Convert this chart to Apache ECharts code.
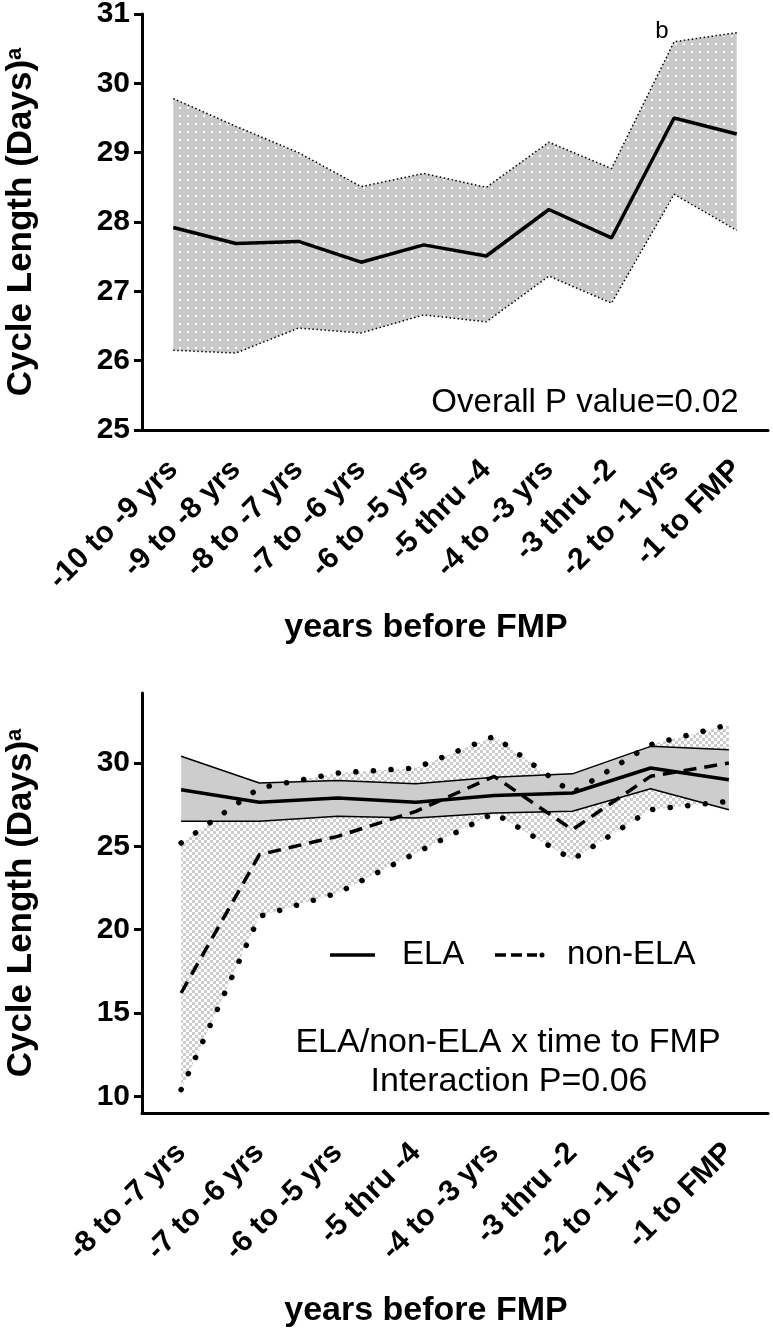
<!DOCTYPE html>
<html><head><meta charset="utf-8">
<script src="https://cdn.jsdelivr.net/npm/echarts@6/dist/echarts.min.js"></script>
<style>html,body{margin:0;padding:0;background:#fff}#c{width:773px;height:1330px}</style>
</head><body><div id="c"></div>
<script>
// ---------- data ----------
const topCategories = ['-10 to -9 yrs','-9 to -8 yrs','-8 to -7 yrs','-7 to -6 yrs','-6 to -5 yrs','-5 thru -4','-4 to -3 yrs','-3 thru -2','-2 to -1 yrs','-1 to FMP'];
const topMean  = [27.92, 27.69, 27.72, 27.42, 27.67, 27.51, 28.18, 27.77, 29.50, 29.27];
const topUpper = [29.78, 29.38, 29.00, 28.51, 28.70, 28.50, 29.15, 28.77, 30.60, 30.73];
const topLower = [26.15, 26.11, 26.47, 26.40, 26.66, 26.56, 27.22, 26.83, 28.40, 27.88];
const topYTicks = [25, 26, 27, 28, 29, 30, 31];

const botCategories = ['-8 to -7 yrs','-7 to -6 yrs','-6 to -5 yrs','-5 thru -4','-4 to -3 yrs','-3 thru -2','-2 to -1 yrs','-1 to FMP'];
const elaMean  = [28.40, 27.65, 27.90, 27.65, 28.05, 28.20, 29.70, 29.00];
const elaUpper = [30.40, 28.80, 28.95, 28.75, 29.15, 29.35, 31.00, 30.80];
const elaLower = [26.50, 26.50, 26.80, 26.70, 27.00, 27.10, 28.45, 27.20];
const nonMean  = [16.20, 24.50, 25.60, 27.10, 29.20, 26.00, 29.20, 30.00];
const nonUpper = [25.20, 28.50, 29.40, 29.70, 31.60, 28.20, 31.10, 32.30];
const nonLower = [10.40, 20.80, 22.20, 24.60, 27.00, 24.20, 27.20, 27.70];
const botYTicks = [10, 15, 20, 25, 30];

// ---------- helpers ----------
const FONT = "'Liberation Sans', Arial, Helvetica, sans-serif";
const diff = (u, l) => u.map((v, i) => +(v - l[i]).toFixed(3));
function dotPattern() {
  const c = document.createElement('canvas'); c.width = 8; c.height = 8;
  const g = c.getContext('2d');
  g.fillStyle = '#c9c9c9'; g.fillRect(0, 0, 8, 8);
  g.fillStyle = '#ffffff'; g.fillRect(3, 3, 2, 2);
  return c;
}
function checkerPattern() {
  const c = document.createElement('canvas'); c.width = 6; c.height = 6;
  const g = c.getContext('2d');
  g.fillStyle = '#ffffff'; g.fillRect(0, 0, 6, 6);
  g.fillStyle = '#cdcdcd'; g.fillRect(0, 0, 3, 3); g.fillRect(3, 3, 3, 3);
  return c;
}
const dots = dotPattern();
const checker = checkerPattern();

const yTitle = {
  rich: {
    m: { fontSize: 35, fontWeight: 'bold', fontFamily: FONT, color: '#000', lineHeight: 34 },
    s: { fontSize: 22, fontWeight: 'bold', fontFamily: FONT, color: '#000', verticalAlign: 'top', lineHeight: 34 }
  }
};
function xAxisCfg(grid, cats) {
  return {
    type: 'category', gridIndex: grid, data: cats, boundaryGap: true,
    axisLine: { onZero: false, lineStyle: { color: '#000', width: 3 } },
    axisTick: { show: false },
    axisLabel: { interval: 0, rotate: 45, fontSize: 30, fontWeight: 'bold', fontFamily: FONT, color: '#000', margin: 35, padding: [27, 0, 0, 0] },
    name: 'years before FMP', nameLocation: 'middle', nameGap: 181,
    nameTextStyle: { fontSize: 34, fontWeight: 'bold', fontFamily: FONT, color: '#000', padding: [0, 58, 0, 0] }
  };
}
function yAxisCfg(grid, min, max, ticks) {
  return {
    type: 'value', gridIndex: grid, min: min, max: max, splitLine: { show: false },
    axisLine: { show: true, lineStyle: { color: '#000', width: 3 } },
    axisTick: { show: true, length: 8, lineStyle: { color: '#000', width: 3 }, customValues: ticks },
    axisLabel: { customValues: ticks, margin: 12, fontSize: 30, fontWeight: 'bold', fontFamily: FONT, color: '#000' },
    name: '{m|Cycle Length (Days)}{s|a}', nameLocation: 'middle', nameRotate: 90, nameGap: 104,
    nameTextStyle: yTitle
  };
}
function band(xi, lower, upper, stack, color) {
  return [
    { type: 'line', xAxisIndex: xi, yAxisIndex: xi, data: lower, stack: stack, symbol: 'none', silent: true, lineStyle: { opacity: 0 } },
    { type: 'line', xAxisIndex: xi, yAxisIndex: xi, data: diff(upper, lower), stack: stack, symbol: 'none', silent: true,
      lineStyle: { opacity: 0 }, areaStyle: { color: color, opacity: 1 } }
  ];
}
function line(xi, data, style, z) {
  return { type: 'line', xAxisIndex: xi, yAxisIndex: xi, data: data, symbol: 'none', silent: true, z: z || 3, lineStyle: Object.assign({ color: '#000' }, style) };
}
const txt = (text, x, y, size, align) => ({
  type: 'text', x: x, y: y, z: 100,
  style: { text: text, fill: '#000', font: 'normal ' + size + 'px ' + FONT, fontSize: size, fontFamily: FONT,
    align: align || 'center', textAlign: align || 'center', verticalAlign: 'middle', textVerticalAlign: 'middle' }
});

const chart = echarts.init(document.getElementById('c'), null, { renderer: 'canvas' });
chart.setOption({
  animation: false,
  backgroundColor: '#fff',
  grid: [
    { left: 142, right: 5, top: 14, height: 416, containLabel: false, outerBoundsMode: 'none' },
    { left: 142, right: 5, top: 693, height: 420, containLabel: false, outerBoundsMode: 'none' }
  ],
  xAxis: [xAxisCfg(0, topCategories), xAxisCfg(1, botCategories)],
  yAxis: [yAxisCfg(0, 25, 31, topYTicks), yAxisCfg(1, 9, 34.2, botYTicks)],
  series: [
    ...band(0, topLower, topUpper, 'topBand', { image: dots, repeat: 'repeat' }),
    line(0, topUpper, { width: 1.5, type: [1.5, 2.5] }),
    line(0, topLower, { width: 1.5, type: [1.5, 2.5] }),
    line(0, topMean, { width: 3.5 }, 5),

    ...band(1, nonLower, nonUpper, 'nonBand', { image: checker, repeat: 'repeat' }),
    ...band(1, elaLower, elaUpper, 'elaBand', '#cdcdcd'),
    line(1, elaUpper, { width: 1.5 }),
    line(1, elaLower, { width: 1.5 }),
    line(1, elaMean, { width: 3.5 }, 5),
    line(1, nonMean, { width: 3.5, type: [13, 8] }, 6),
    line(1, nonUpper, { width: 5.5, type: [0.1, 17.5], cap: 'round' }, 6),
    line(1, nonLower, { width: 5.5, type: [0.1, 17.5], cap: 'round' }, 6)
  ],
  graphic: [
    txt('b', 662, 31, 24),
    txt('Overall P value=0.02', 585, 403, 33),
    { type: 'line', z: 100, shape: { x1: 330, y1: 955, x2: 375, y2: 955 }, style: { stroke: '#000', lineWidth: 3.5 } },
    txt('ELA', 402, 955, 33, 'left'),
    { type: 'line', z: 100, shape: { x1: 495, y1: 955, x2: 537, y2: 955 }, style: { stroke: '#000', lineWidth: 3.5, lineDash: [11, 5] } },
    { type: 'circle', z: 100, shape: { cx: 542, cy: 955, r: 2.5 }, style: { fill: '#000' } },
    txt('non-ELA', 567, 955, 33, 'left'),
    txt('ELA/non-ELA x time to FMP', 508, 1043, 34),
    txt('Interaction P=0.06', 509, 1082, 34)
  ]
});
</script>
</body></html>
